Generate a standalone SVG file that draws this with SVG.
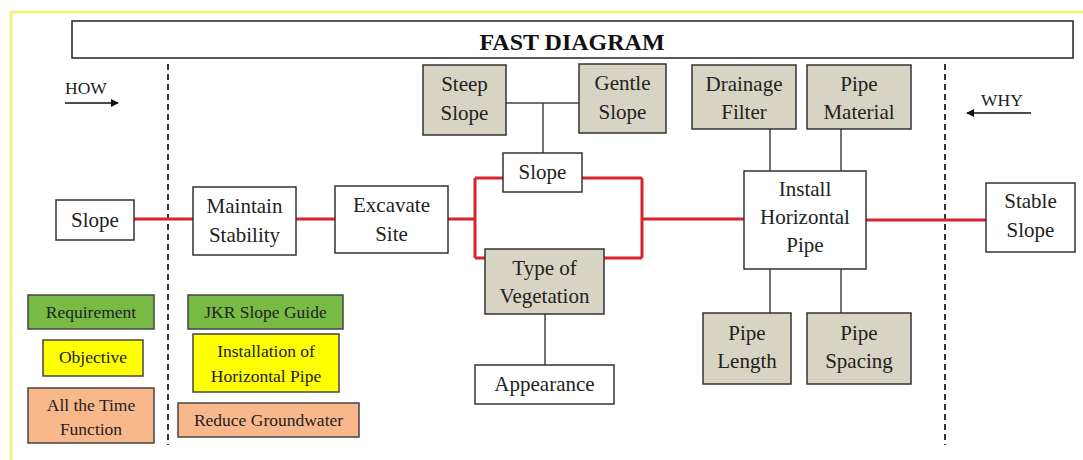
<svg xmlns="http://www.w3.org/2000/svg" width="1083" height="460" viewBox="0 0 1083 460">
<defs>
<style>
.n{fill:#fff;stroke:#333;stroke-width:1.5}
.b{fill:#d8d4c3;stroke:#333;stroke-width:1.5}
.g{fill:#77bb44;stroke:#444;stroke-width:1.5}
.y{fill:#ffff00;stroke:#444;stroke-width:1.5}
.o{fill:#f8b88b;stroke:#444;stroke-width:1.5}
.t{font-family:"Liberation Serif",serif;font-size:21px;fill:#222;text-anchor:middle}
.s{font-family:"Liberation Serif",serif;font-size:17.5px;fill:#222;text-anchor:middle}
.r{stroke:#d9232e;stroke-width:3;fill:none}
.k{stroke:#444;stroke-width:1.5;fill:none}
.d{stroke:#333;stroke-width:2;stroke-dasharray:6,4;fill:none}
</style>
<marker id="ah" viewBox="0 0 10 10" refX="9" refY="5" markerWidth="8" markerHeight="8" markerUnits="userSpaceOnUse" orient="auto"><path d="M0,0 L10,5 L0,10 z" fill="#111"/></marker>
</defs>
<rect width="1083" height="460" fill="#fff"/>
<path d="M11,460 V12 H1083" stroke="#f2f27a" stroke-width="3" fill="none"/>
<g id="title"><rect x="72" y="21" width="1001" height="37" fill="#fff" stroke="#222" stroke-width="1.5"/><text x="572" y="50" font-family="Liberation Serif,serif" font-size="24" font-weight="bold" text-anchor="middle" fill="#111">FAST DIAGRAM</text></g>
<g id="how"><text x="86" y="94" class="s" font-size="18">HOW</text><line x1="65" y1="103" x2="118" y2="103" stroke="#111" stroke-width="1.5" marker-end="url(#ah)"/></g>
<g id="why"><text x="1002" y="106" class="s" font-size="18">WHY</text><line x1="1031" y1="113" x2="967" y2="113" stroke="#111" stroke-width="1.5" marker-end="url(#ah)"/></g>
<g id="dividers"><line x1="168" y1="64" x2="168" y2="445" class="d"/><line x1="945" y1="64" x2="945" y2="445" class="d"/></g>
<g id="connectors">
<path class="r" d="M134,219 H193 M296,219 H335 M448,219 H475 M475,178 V258 M475,178 H503 M582,178 H642 M475,258 H485 M604,258 H642 M642,178 V258 M642,219 H744 M866,220 H987"/>
<path class="k" d="M506,103 H579 M543,103 V153 M770,129 V171 M841,129 V171 M770,269 V313 M841,269 V313 M545,314 V365"/>
</g>
<g id="slope-left"><rect class="n" x="56" y="200" width="78" height="40"/><text class="t" x="95" y="227">Slope</text></g>
<g id="maintain"><rect class="n" x="193" y="187" width="103" height="68"/><text class="t" x="244.5" y="213">Maintain</text><text class="t" x="244.5" y="242">Stability</text></g>
<g id="excavate"><rect class="n" x="335" y="186" width="113" height="67"/><text class="t" x="391.5" y="212">Excavate</text><text class="t" x="391.5" y="241">Site</text></g>
<g id="slope-mid"><rect class="n" x="503" y="153" width="79" height="39"/><text class="t" x="542.5" y="179">Slope</text></g>
<g id="vegetation"><rect class="b" x="485" y="249" width="119" height="65"/><text class="t" x="544.5" y="275">Type of</text><text class="t" x="544.5" y="303">Vegetation</text></g>
<g id="appearance"><rect class="n" x="475" y="365" width="139" height="39"/><text class="t" x="544.5" y="391">Appearance</text></g>
<g id="steep"><rect class="b" x="423" y="65" width="83" height="70"/><text class="t" x="464.5" y="91">Steep</text><text class="t" x="464.5" y="120">Slope</text></g>
<g id="gentle"><rect class="b" x="579" y="64" width="87" height="69"/><text class="t" x="622.5" y="90">Gentle</text><text class="t" x="622.5" y="119">Slope</text></g>
<g id="install"><rect class="n" x="744" y="171" width="122" height="98"/><text class="t" x="805" y="196">Install</text><text class="t" x="805" y="224">Horizontal</text><text class="t" x="805" y="252">Pipe</text></g>
<g id="drainage"><rect class="b" x="692" y="65" width="104" height="64"/><text class="t" x="744" y="91">Drainage</text><text class="t" x="744" y="119">Filter</text></g>
<g id="material"><rect class="b" x="807" y="65" width="104" height="64"/><text class="t" x="859" y="91">Pipe</text><text class="t" x="859" y="119">Material</text></g>
<g id="length"><rect class="b" x="703" y="313" width="88" height="71"/><text class="t" x="747" y="340">Pipe</text><text class="t" x="747" y="368">Length</text></g>
<g id="spacing"><rect class="b" x="807" y="313" width="104" height="71"/><text class="t" x="859" y="340">Pipe</text><text class="t" x="859" y="368">Spacing</text></g>
<g id="stable"><rect class="n" x="986" y="183" width="89" height="69"/><text class="t" x="1030.5" y="208">Stable</text><text class="t" x="1030.5" y="237">Slope</text></g>
<g id="legend-requirement"><rect class="g" x="28" y="295" width="126" height="34"/><text class="s" x="91" y="318">Requirement</text></g>
<g id="legend-objective"><rect class="y" x="43" y="340" width="100" height="36"/><text class="s" x="93" y="363">Objective</text></g>
<g id="legend-alltime"><rect class="o" x="28" y="388" width="126" height="55"/><text class="s" x="91" y="411">All the Time</text><text class="s" x="91" y="435">Function</text></g>
<g id="legend-jkr"><rect class="g" x="188" y="295" width="155" height="34"/><text class="s" x="265.5" y="318">JKR Slope Guide</text></g>
<g id="legend-installation"><rect class="y" x="193" y="334" width="146" height="58"/><text class="s" x="266" y="357">Installation of</text><text class="s" x="266" y="382">Horizontal Pipe</text></g>
<g id="legend-reduce"><rect class="o" x="178" y="403" width="181" height="34"/><text class="s" x="268.5" y="426">Reduce Groundwater</text></g>
</svg>
